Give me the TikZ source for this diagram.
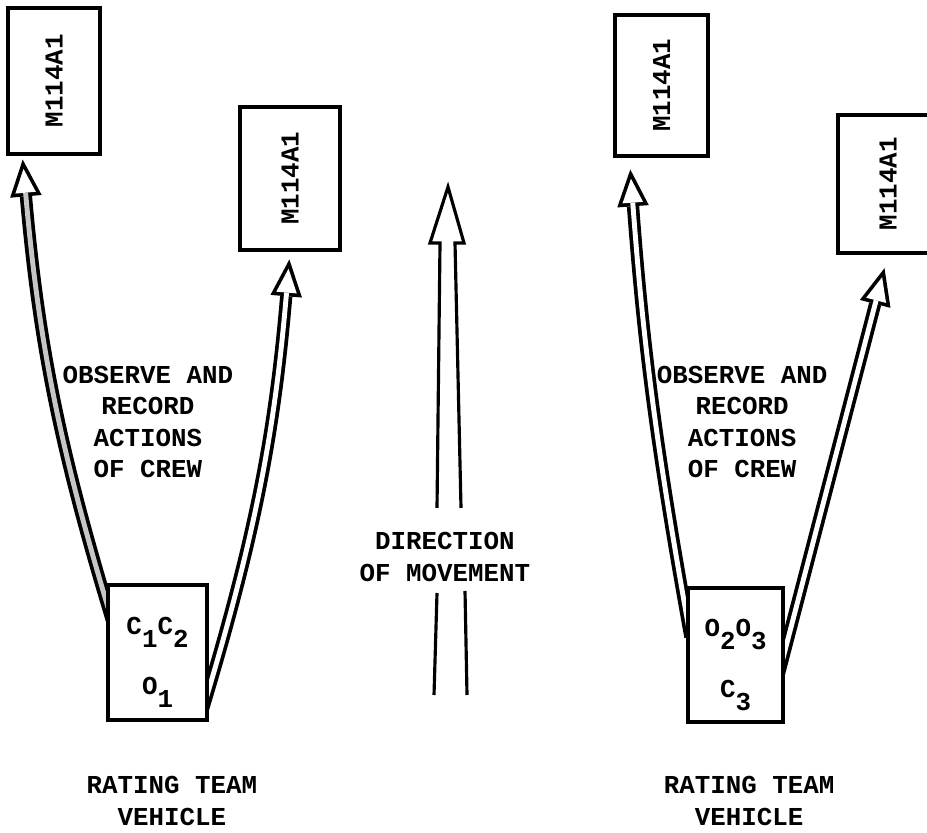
\documentclass[tikz,border=0pt]{standalone}
\usepackage{fontspec}
\setmonofont{Liberation Mono}
\usetikzlibrary{arrows.meta, calc, backgrounds}
\newcommand{\lowr}[1]{\raisebox{-0.5em}{#1}}
\newcommand{\tallstrut}{\rule{0pt}{21pt}}
\tikzset{
    typed/.style    ={font=\ttfamily\bfseries\fontsize{14.7}{17.9}\selectfont, align=center},
    apc/.style 2 args={rectangle, draw=black, line width=1.8pt, fill=white, inner sep=0pt, minimum width=#1, minimum height=#2, typed},
    hollow/.style 2 args={line width=7pt, -{Triangle[length=21pt, width=18pt, line width=0pt]}, shorten >=#1,
        postaction={draw=#2, line width=2.8pt, shorten >=#1+5.3pt, -{Triangle[length=13.6pt, width=11.7pt, line width=0pt, color=white]}}},
    shaft/.style    ={line width=1.8pt, line join=miter},
}
\begin{document}
\begin{tikzpicture}[x=0.2mm, y=0.2mm]
\useasboundingbox (0,0) rectangle (927,833);
\clip (0,0) rectangle (927,833);
% vehicles under observation
\node[apc={18.4mm}{29.2mm}] (tgtA) at (54,752) {\rotatebox{90}{M114A1}};
\node[apc={20mm}{28.6mm}] (tgtB) at (290,654.5) {\rotatebox{90}{M114A1}};
\node[apc={18.6mm}{28.2mm}] (tgtC) at (661.5,747.5) {\rotatebox{90}{M114A1}};
\node[apc={20mm}{27.6mm}] (tgtD) at (888,649) {\rotatebox{90}{M114A1}};
% rating team vehicles
\node[apc={19.8mm}{27mm}] (vehA) at (157.5,180.5) {\tallstrut C\lowr{1}C\lowr{2}\\[16.7pt]O\lowr{1}};
\node[apc={19mm}{26.8mm}] (vehB) at (735.5,178) {\tallstrut O\lowr{2}O\lowr{3}\\[16.7pt]C\lowr{3}};
\node[typed] (teamA) at (172,32) {RATING TEAM\\VEHICLE};
\node[typed] (teamB) at (749,32) {RATING TEAM\\VEHICLE};
\node[typed] (obsA) at (148,411) {OBSERVE AND\\RECORD\\ACTIONS\\OF CREW};
\node[typed] (obsB) at (742,411) {OBSERVE AND\\RECORD\\ACTIONS\\OF CREW};
\node[typed] (dirmove) at (445,276) {DIRECTION\\OF MOVEMENT};
\begin{scope}[on background layer]
\draw[hollow={2.3pt}{gray!45}] ($(vehA.west)+(8,24)$) to[bend left=6] (tgtA.247);
\draw[hollow={4.5pt}{white}] ($(vehA.south east)+(-7,8)$) to[bend right=6] (tgtB.south);
\draw[hollow={6.8pt}{white}] ($(vehB.west)+(4,18)$) to[bend left=3] (tgtC.246);
\draw[hollow={8pt}{white}] ($(vehB.east)+(-6,-20)$) -- (tgtD.south);
\end{scope}
% direction of movement
\draw[shaft] (437,325) -- (440,590) -- (430,590) -- (448,646) -- (464,590) -- (455,590) -- (461,325);
\draw[shaft] (437,240) -- (434,138) (465,242) -- (467,138);
\end{tikzpicture}
\end{document}
